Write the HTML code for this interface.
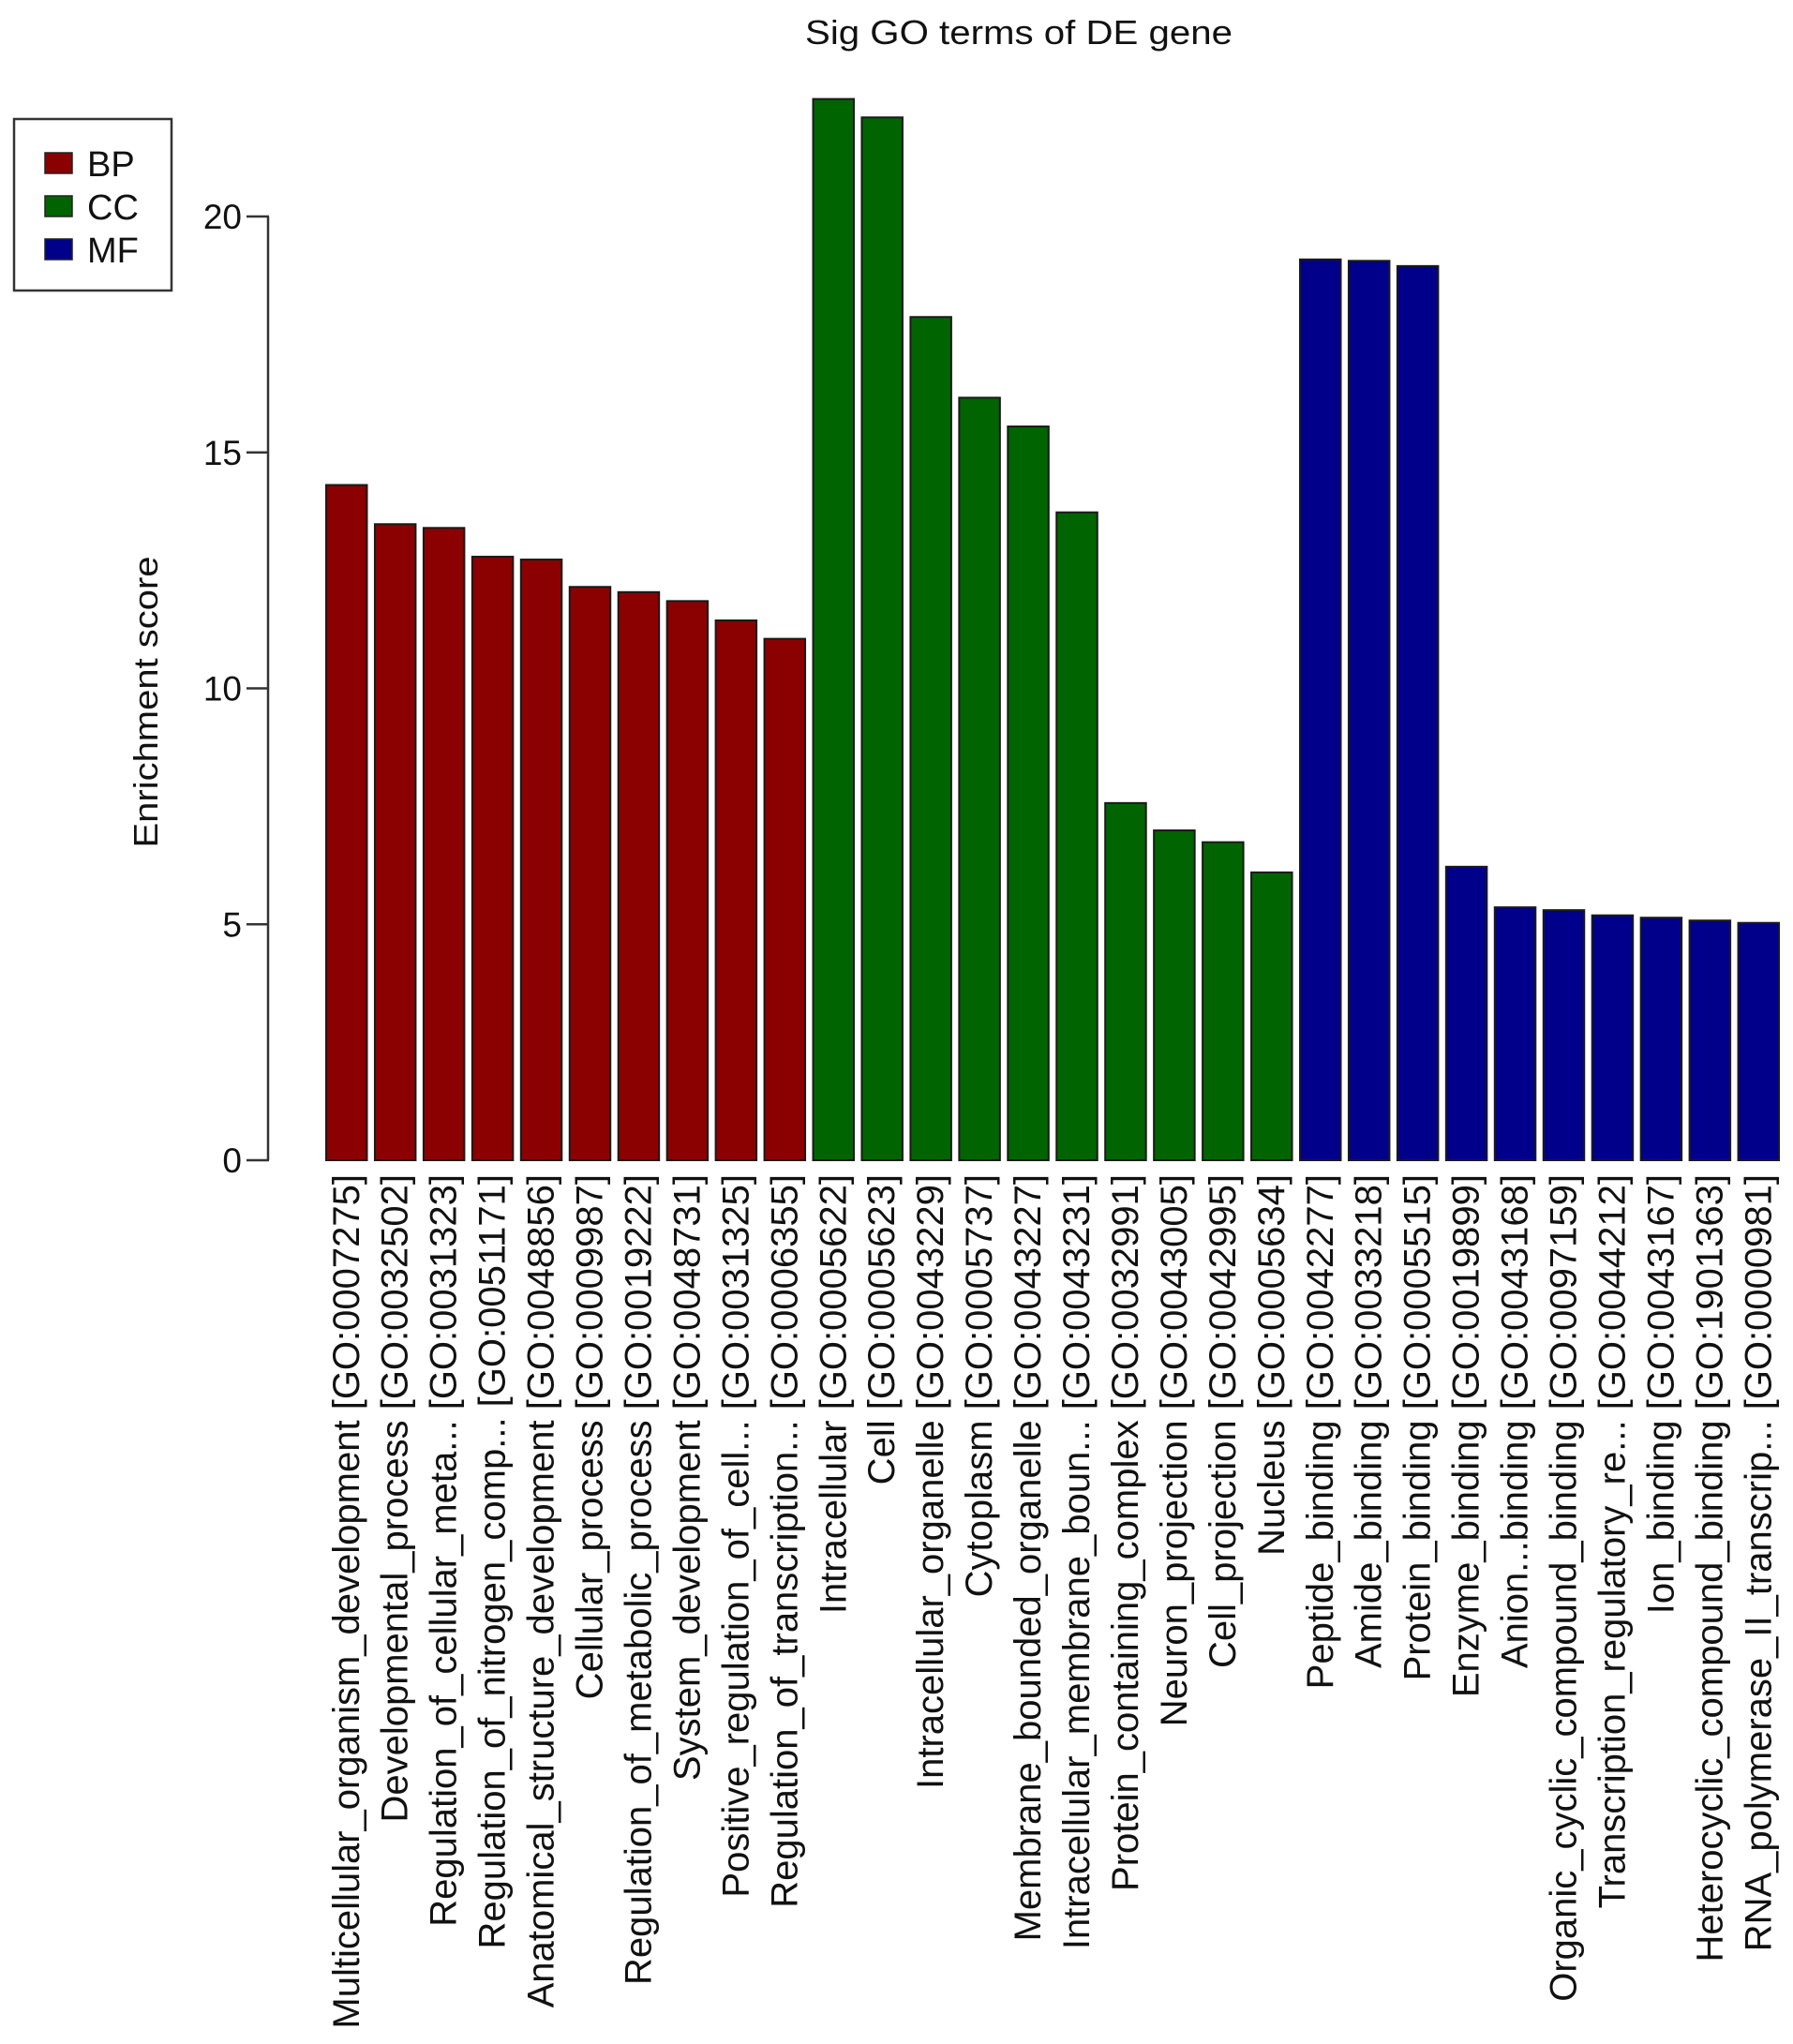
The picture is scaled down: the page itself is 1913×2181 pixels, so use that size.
<!DOCTYPE html>
<html><head><meta charset="utf-8"><style>
html,body{margin:0;padding:0;background:#fff}
svg{display:block}
text{font-family:"Liberation Sans",sans-serif;fill:#111}
</style></head><body>
<svg id="chart" width="1913" height="2181" viewBox="0 0 1913 2181">
<text x="1087" y="47" font-size="36" text-anchor="middle" textLength="456" lengthAdjust="spacingAndGlyphs">Sig GO terms of DE gene</text>
<g>
<rect x="15" y="127" width="168" height="183" fill="#fff" stroke="#333" stroke-width="2.5"/>
<rect x="48" y="163" width="29" height="22" fill="#8b0000" stroke="#222" stroke-width="1.5"/>
<text x="93" y="188" font-size="38">BP</text>
<rect x="48" y="209" width="29" height="22" fill="#006400" stroke="#222" stroke-width="1.5"/>
<text x="93" y="234" font-size="38">CC</text>
<rect x="48" y="255" width="29" height="22" fill="#00008b" stroke="#222" stroke-width="1.5"/>
<text x="93" y="280" font-size="38">MF</text>
</g>
<text transform="translate(168,749) rotate(-90)" font-size="36" text-anchor="middle" textLength="311" lengthAdjust="spacingAndGlyphs">Enrichment score</text>
<g id="yaxis"></g>
<g id="bars"></g>
<g id="xlabels"></g>
</svg>
<script>
const categories = ["Multicellular_organism_development [GO:0007275]","Developmental_process [GO:0032502]","Regulation_of_cellular_meta... [GO:0031323]","Regulation_of_nitrogen_comp... [GO:0051171]","Anatomical_structure_development [GO:0048856]","Cellular_process [GO:0009987]","Regulation_of_metabolic_process [GO:0019222]","System_development [GO:0048731]","Positive_regulation_of_cell... [GO:0031325]","Regulation_of_transcription... [GO:0006355]","Intracellular [GO:0005622]","Cell [GO:0005623]","Intracellular_organelle [GO:0043229]","Cytoplasm [GO:0005737]","Membrane_bounded_organelle [GO:0043227]","Intracellular_membrane_boun... [GO:0043231]","Protein_containing_complex [GO:0032991]","Neuron_projection [GO:0043005]","Cell_projection [GO:0042995]","Nucleus [GO:0005634]","Peptide_binding [GO:0042277]","Amide_binding [GO:0033218]","Protein_binding [GO:0005515]","Enzyme_binding [GO:0019899]","Anion...binding [GO:0043168]","Organic_cyclic_compound_binding [GO:0097159]","Transcription_regulatory_re... [GO:0044212]","Ion_binding [GO:0043167]","Heterocyclic_compound_binding [GO:1901363]","RNA_polymerase_II_transcrip... [GO:0000981]"];
const groups = ["BP","BP","BP","BP","BP","BP","BP","BP","BP","BP","CC","CC","CC","CC","CC","CC","CC","CC","CC","CC","MF","MF","MF","MF","MF","MF","MF","MF","MF","MF"];
const scores = [14.31,13.48,13.40,12.79,12.73,12.15,12.04,11.85,11.44,11.05,22.49,22.10,17.87,16.16,15.55,13.73,7.57,6.99,6.74,6.10,19.09,19.06,18.95,6.22,5.36,5.30,5.19,5.14,5.08,5.03];
const yTicks = [0,5,10,15,20];
const groupColors = {BP:"#8b0000",CC:"#006400",MF:"#00008b"};

const NS="http://www.w3.org/2000/svg";
const y0=1238, pxPerUnit=50.35;
function yScale(v){return y0 - v*pxPerUnit;}
const xStart=348, pitch=51.95, barW=43.5;
function xScale(i){return xStart + i*pitch;}

const yaxis=document.getElementById('yaxis');
let ln=document.createElementNS(NS,'line');


ln.setAttribute('x1',286);ln.setAttribute('x2',286);
ln.setAttribute('y1',yScale(yTicks[0]));ln.setAttribute('y2',yScale(yTicks[yTicks.length-1]));
ln.setAttribute('stroke','#333');ln.setAttribute('stroke-width','2.5');
yaxis.appendChild(ln);
yTicks.forEach(t=>{
  const tk=document.createElementNS(NS,'line');
  
  
  tk.setAttribute('x1',263);tk.setAttribute('x2',287);
  tk.setAttribute('y1',yScale(t));tk.setAttribute('y2',yScale(t));
  tk.setAttribute('stroke','#333');tk.setAttribute('stroke-width','2.5');
  yaxis.appendChild(tk);
  const tl=document.createElementNS(NS,'text');
  
  
  tl.setAttribute('x',258);tl.setAttribute('y',yScale(t)+13);
  tl.setAttribute('font-size','37');tl.setAttribute('text-anchor','end');
  tl.textContent=String(t);
  yaxis.appendChild(tl);
});

const bars=document.getElementById('bars');
const xl=document.getElementById('xlabels');
scores.forEach((v,i)=>{
  const r=document.createElementNS(NS,'rect');
  
  
  r.setAttribute('x',xScale(i));r.setAttribute('width',barW);
  r.setAttribute('y',yScale(v));r.setAttribute('height',y0-yScale(v));
  r.setAttribute('fill',groupColors[groups[i]]);
  r.setAttribute('stroke','#1a1a1a');r.setAttribute('stroke-width','2');
  bars.appendChild(r);
  const t=document.createElementNS(NS,'text');
  
  
  t.setAttribute('font-size','40');
  t.setAttribute('text-anchor','end');
  t.setAttribute('dominant-baseline','central');
  t.setAttribute('transform','translate('+(xScale(i)+barW/2)+',1253) rotate(-90) scale(0.93,1)');
  t.textContent=categories[i];
  xl.appendChild(t);
});
const first=xl.firstChild;
const w=first.getComputedTextLength();
const f=w>0?Math.min(1,914/w):0.93;
Array.from(xl.children).forEach((t,i)=>{
  t.setAttribute('transform','translate('+(xScale(i)+barW/2)+',1253) rotate(-90) scale('+f+',1)');
});
</script>
</body></html>
